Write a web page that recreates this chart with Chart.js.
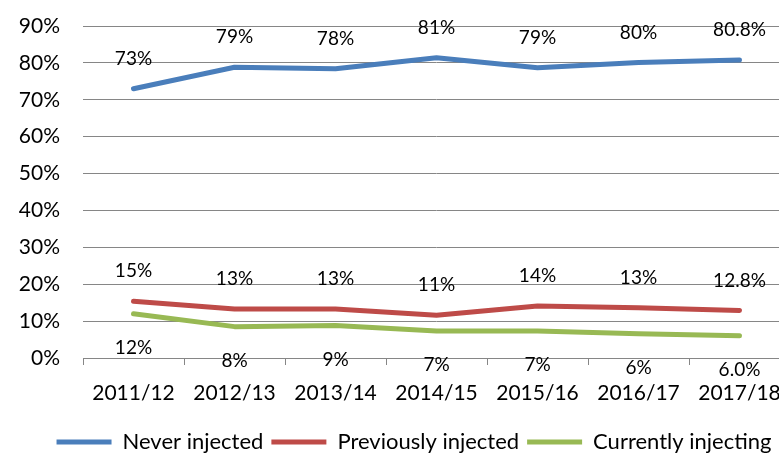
<!DOCTYPE html>
<html>
<head>
<meta charset="utf-8">
<script src="https://cdn.jsdelivr.net/npm/chart.js@4/dist/chart.umd.min.js"></script>
<style>
  html, body { margin: 0; padding: 0; background: #fff; overflow: hidden; }
</style>
</head>
<body>
<canvas id="chart" width="828" height="453"></canvas>
<script>
const categories = ['2011/12', '2012/13', '2013/14', '2014/15', '2015/16', '2016/17', '2017/18'];
const neverInjected = [73.0, 78.8, 78.4, 81.4, 78.7, 80.1, 80.8];
const previouslyInjected = [15.4, 13.3, 13.3, 11.6, 14.1, 13.6, 12.9];
const currentlyInjecting = [12.0, 8.5, 8.8, 7.3, 7.3, 6.6, 6.0];
const neverLabels = ['73%', '79%', '78%', '81%', '79%', '80%', '80.8%'];
const previousLabels = ['15%', '13%', '13%', '11%', '14%', '13%', '12.8%'];
const currentLabels = ['12%', '8%', '9%', '7%', '7%', '6%', '6.0%'];

const FONT = 'Lato, "Open Sans", sans-serif';

// text labels next to each point
const pointLabels = {
    id: 'pointLabels',
    afterDatasetsDraw(chart) {
        const ctx = chart.ctx;
        const sets = [
            { labels: neverLabels, dy: -30 },
            { labels: previousLabels, dy: -30 },
            { labels: currentLabels, dy: 34 }
        ];
        ctx.save();
        ctx.font = '19px ' + FONT;
        ctx.fillStyle = '#000';
        ctx.textAlign = 'center';
        ctx.textBaseline = 'middle';
        sets.forEach((s, i) => {
            chart.getDatasetMeta(i).data.forEach((pt, j) => {
                ctx.fillText(s.labels[j], pt.x, pt.y + s.dy);
            });
        });
        ctx.restore();
    }
};

new Chart(document.getElementById('chart').getContext('2d'), {
    type: 'line',
    data: {
        labels: categories,
        datasets: [
            { label: 'Never injected', data: neverInjected, borderColor: '#4A7EBB', backgroundColor: '#4A7EBB' },
            { label: 'Previously injected', data: previouslyInjected, borderColor: '#BE4B48', backgroundColor: '#BE4B48' },
            { label: 'Currently injecting', data: currentlyInjecting, borderColor: '#98B954', backgroundColor: '#98B954' }
        ]
    },
    options: {
        responsive: false,
        animation: false,
        layout: { padding: { left: 0, right: 0, top: 26, bottom: -10 } },
        elements: {
            line: { borderWidth: 5, tension: 0, borderCapStyle: 'round', borderJoinStyle: 'round' },
            point: { radius: 0 }
        },
        scales: {
            x: {
                offset: true,
                afterFit(scale) { scale.height = 65; },
                grid: { offset: true, drawOnChartArea: false, tickLength: 7, color: '#868686' },
                border: { color: '#868686' },
                ticks: { color: '#000', font: { family: FONT, size: 21 }, padding: 16, maxRotation: 0 }
            },
            y: {
                min: 0,
                max: 90,
                afterFit(scale) {
                    scale.width = 83;
                    // tick padding should not push the plot down
                    scale.paddingTop = 0;
                    scale.paddingBottom = 0;
                },
                grid: { color: '#868686', drawTicks: false },
                border: { display: false },
                ticks: {
                    stepSize: 10,
                    color: '#000',
                    padding: 23,
                    font: { family: FONT, size: 21 },
                    callback: v => v + '%'
                }
            },
            // empty right-hand axis, only reserves space past the plot
            y2: {
                position: 'right',
                afterFit(scale) { scale.width = 38; },
                grid: { drawOnChartArea: false, display: false },
                border: { display: false },
                ticks: { display: false }
            }
        },
        plugins: {
            tooltip: { enabled: false },
            legend: {
                position: 'bottom',
                labels: {
                    color: '#000',
                    font: { family: FONT, size: 22 },
                    boxWidth: 55,
                    boxHeight: 5,
                    padding: 8,
                    generateLabels(chart) {
                        return Chart.defaults.plugins.legend.labels.generateLabels(chart).map(l => {
                            l.fillStyle = l.strokeStyle;
                            l.lineWidth = 0;
                            return l;
                        });
                    }
                }
            }
        }
    },
    plugins: [pointLabels]
});
</script>
</body>
</html>
